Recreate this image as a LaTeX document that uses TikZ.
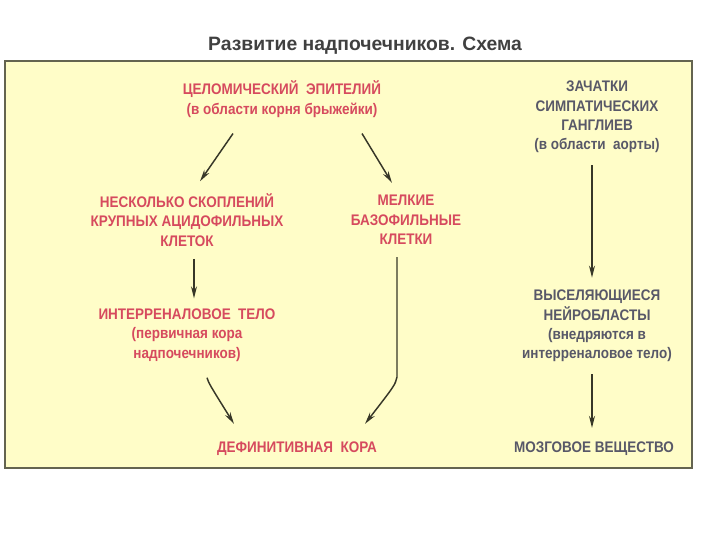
\documentclass[tikz,border=0pt]{standalone}
\usepackage{fontspec}
\setmainfont{Liberation Sans}
\newfontfamily\narrowsans[FakeStretch=0.88]{Liberation Sans}
\usetikzlibrary{arrows.meta}
\definecolor{schemered}{RGB}{214,74,94}
\definecolor{schemegray}{RGB}{88,88,104}
\definecolor{boxfill}{RGB}{255,253,200}
\definecolor{boxline}{RGB}{100,100,80}
\definecolor{arrowdark}{RGB}{55,55,40}
\tikzset{
  redtext/.style={align=center, text=schemered, inner sep=0pt,
    font=\narrowsans\bfseries\fontsize{11.5}{14.6}\selectfont},
  graytext/.style={redtext, text=schemegray},
  arr/.style={draw=arrowdark, line width=1.1pt, -{Stealth[length=9pt,width=4.5pt]}}
}

\begin{document}
\begin{tikzpicture}[x=0.75pt,y=-0.75pt]
\useasboundingbox (0,0) rectangle (720,540);
\node[font=\bfseries\fontsize{14.5}{17}\selectfont, text=black!75] (title) at (365,46) {Развитие надпочечников. Схема};
\draw[fill=boxfill, draw=boxline, line width=1.2pt] (5,61) rectangle (692,468);

% left and middle branch
\node[redtext] (celom) at (282,99) {ЦЕЛОМИЧЕСКИЙ\ \ ЭПИТЕЛИЙ\\(в области корня брыжейки)};
\node[redtext] (acid) at (187,220) {НЕСКОЛЬКО СКОПЛЕНИЙ\\КРУПНЫХ АЦИДОФИЛЬНЫХ\\КЛЕТОК};
\node[redtext] (baso) at (406,220) {МЕЛКИЕ\\БАЗОФИЛЬНЫЕ\\КЛЕТКИ};
\node[redtext] (inter) at (187,335) {ИНТЕРРЕНАЛОВОЕ\ \ ТЕЛО\\(первичная кора\\надпочечников)};
\node[redtext] (cortex) at (297,449) {ДЕФИНИТИВНАЯ\ \ КОРА};

% right branch
\node[graytext] (ganglia) at (597,117) {ЗАЧАТКИ\\СИМПАТИЧЕСКИХ\\ГАНГЛИЕВ\\(в области\ \ аорты)};
\node[graytext] (neuro) at (597,326) {ВЫСЕЛЯЮЩИЕСЯ\\НЕЙРОБЛАСТЫ\\(внедряются в\\интерреналовое тело)};
\node[graytext] (medulla) at (594,449) {МОЗГОВОЕ ВЕЩЕСТВО};

\draw[arr] ([shift={(-49,16)}]celom.south) -- ([shift={(13,-12)}]acid.north);
\draw[arr] ([shift={(80,16)}]celom.south) -- ([shift={(-14,-12)}]baso.north);
\draw[arr] ([shift={(7,12)}]acid.south) -- ([shift={(7,-10)}]inter.north);
\draw[arr] ([shift={(20,16)}]inter.south) .. controls ([shift={(22,22)}]inter.south) .. ([shift={(-63,-18)}]cortex.north);
\draw[arr] ([shift={(-9,12)}]baso.south) -- ([shift={(-9,132)}]baso.south)
  .. controls ([shift={(-11,140)}]baso.south) .. ([shift={(68,-18)}]cortex.north);
\draw[arr] ([shift={(-5,12)}]ganglia.south) -- ([shift={(-5,-12)}]neuro.north);
\draw[arr] ([shift={(-5,12)}]neuro.south) -- ([shift={(-2,-14)}]medulla.north);
\end{tikzpicture}
\end{document}
